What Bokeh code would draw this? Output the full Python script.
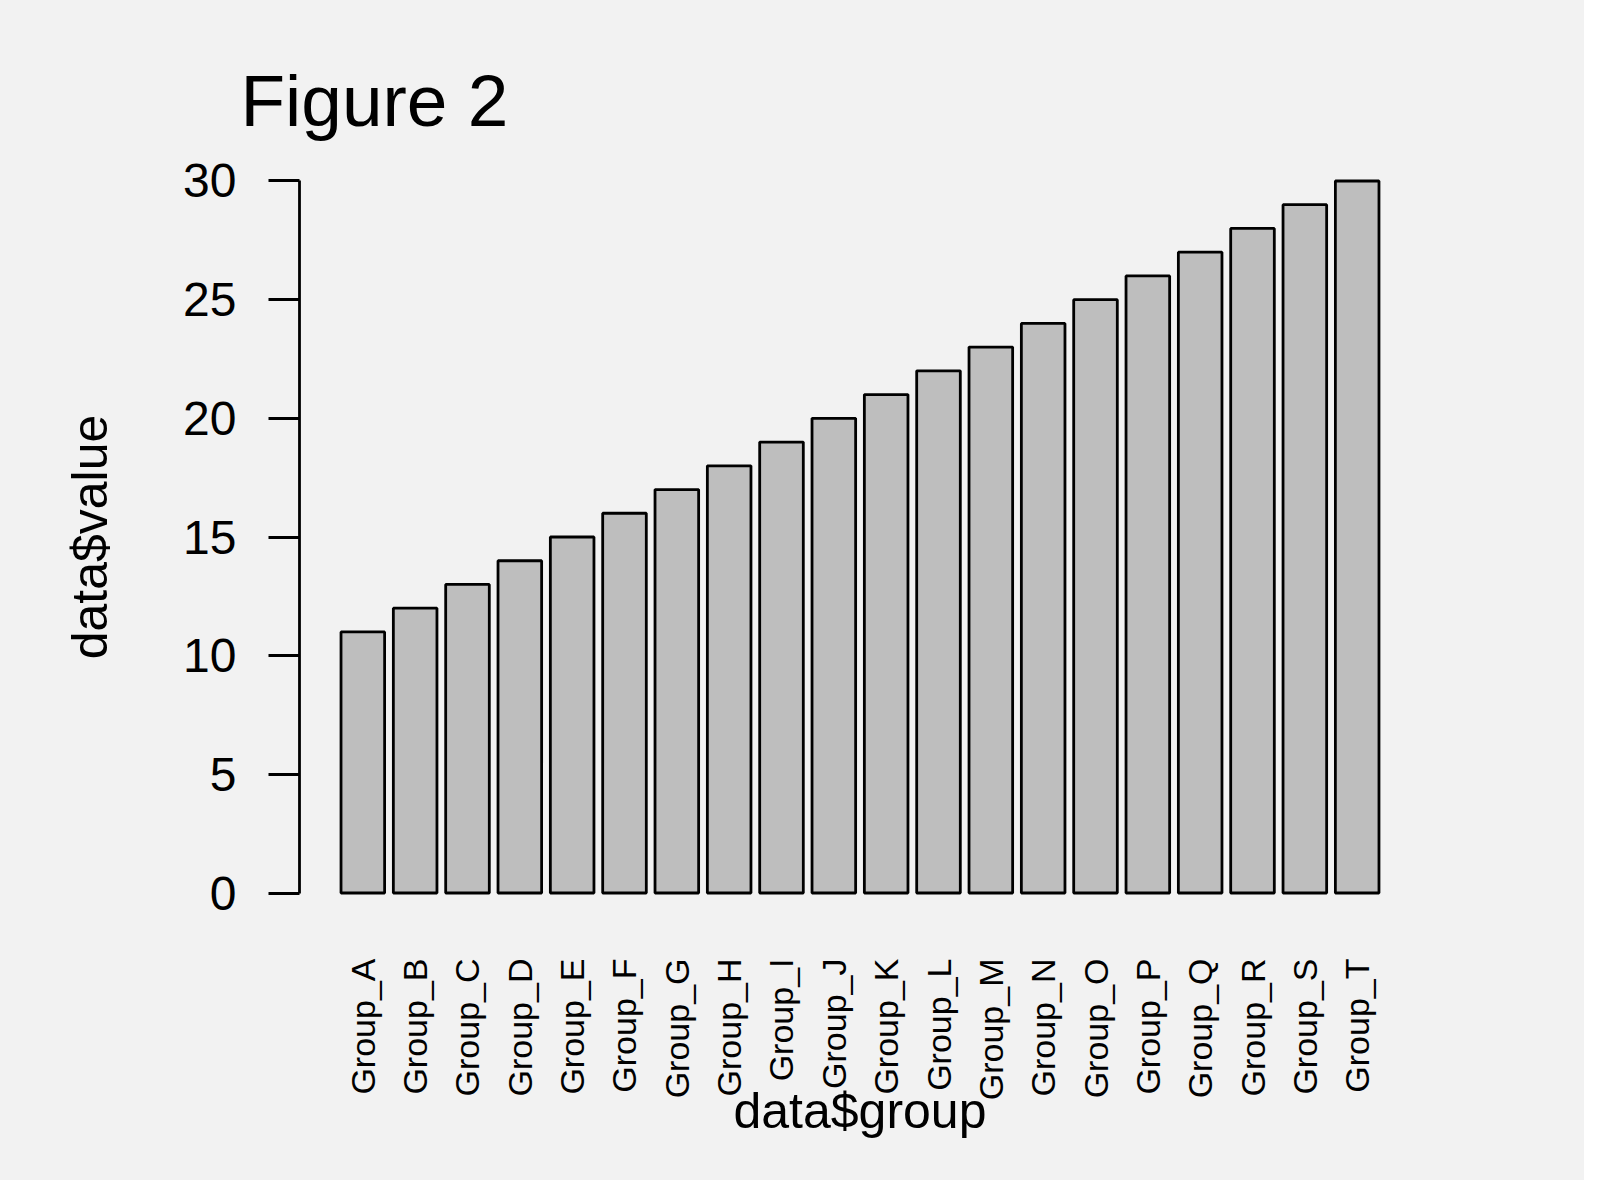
import math
from bokeh.plotting import figure
from bokeh.models import FactorRange, Range1d, FixedTicker
from bokeh.embed import file_html
from bokeh.resources import INLINE

groups = ["Group_A", "Group_B", "Group_C", "Group_D", "Group_E", "Group_F", "Group_G",
          "Group_H", "Group_I", "Group_J", "Group_K", "Group_L", "Group_M", "Group_N",
          "Group_O", "Group_P", "Group_Q", "Group_R", "Group_S", "Group_T"]
values = [11, 12, 13, 14, 15, 16, 17, 18, 19, 20,
          21, 22, 23, 24, 25, 26, 27, 28, 29, 30]
y_ticks = [0, 5, 10, 15, 20, 25, 30]

title_text = "Figure 2"
x_label = "data$group"
y_label = "data$value"

FONT = "Liberation Sans"
BG = "#f2f2f2"
W, H = 1584, 1180
FL, FR, FT, FB = 299, 1420, 152, 921  # frame edges in canvas pixels

p = figure(
    x_range=FactorRange(factors=groups, range_padding=0.71, range_padding_units="absolute"),
    y_range=Range1d(-1.2, 31.2),
    width=W, height=H,
    output_backend="svg", toolbar_location=None,
    min_border_left=FL, min_border_right=W - FR,
    min_border_top=FT, min_border_bottom=H - FB,
    background_fill_color=None, border_fill_color=BG,
    outline_line_color=None,
    title=title_text,
)
p.styles = {"background-color": BG}

p.title.text_font = FONT
p.title.text_font_size = "73px"
p.title.text_font_style = "normal"
p.title.text_color = "black"
p.title.align = "left"
p.title.offset = -59
p.title.standoff = 23

p.vbar(x=groups, top=values, width=1 / 1.2,
       fill_color="#bebebe", line_color="black", line_width=2.8)

p.xgrid.visible = False
p.ygrid.visible = False

# x axis: only rotated category names
xa = p.xaxis[0]
xa.axis_line_color = None
xa.major_tick_line_color = None
xa.minor_tick_line_color = None
xa.major_tick_out = 0
xa.major_tick_in = 0
xa.major_label_standoff = 37
xa.major_label_orientation = math.pi / 2
xa.major_label_text_font = FONT
xa.major_label_text_font_size = "34px"
xa.major_label_text_color = "black"
xa.axis_label = x_label
xa.axis_label_text_font = FONT
xa.axis_label_text_font_size = "50px"
xa.axis_label_text_font_style = "normal"
xa.axis_label_text_color = "black"
xa.axis_label_standoff = -20

# y axis
ya = p.yaxis[0]
ya.ticker = FixedTicker(ticks=y_ticks)
ya.bounds = (0, 30)
ya.axis_line_width = 2.8
ya.axis_line_color = "black"
ya.major_tick_line_width = 2.8
ya.major_tick_line_color = "black"
ya.minor_tick_line_color = None
ya.major_tick_in = 0
ya.major_tick_out = 31
ya.major_label_standoff = 32
ya.major_label_text_font = FONT
ya.major_label_text_font_size = "48px"
ya.major_label_text_color = "black"
ya.axis_label = y_label
ya.axis_label_text_font = FONT
ya.axis_label_text_font_size = "50px"
ya.axis_label_text_font_style = "normal"
ya.axis_label_text_color = "black"
ya.axis_label_standoff = 62

open("out.html", "w").write(file_html(p, INLINE))
